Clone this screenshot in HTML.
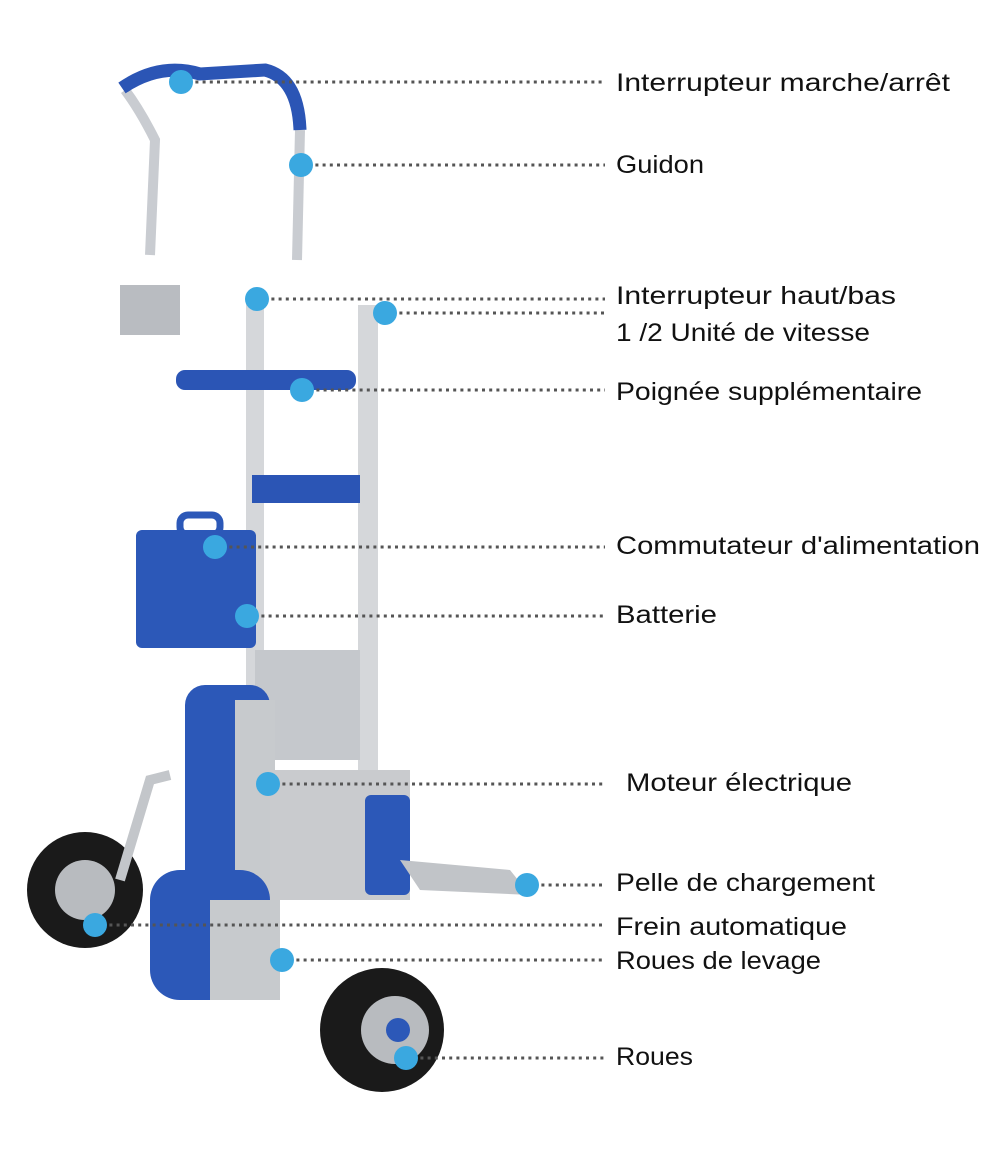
<!DOCTYPE html>
<html><head><meta charset="utf-8">
<style>
html,body{margin:0;padding:0;background:#fff;}
svg{display:block;}
text{font-family:"Liberation Sans",sans-serif;font-size:25px;fill:#111;}
</style></head><body>
<svg width="1000" height="1160" viewBox="0 0 1000 1160" xmlns="http://www.w3.org/2000/svg">
<!-- handle -->
<path d="M150 255 L155 140 Q140 110 125 90" fill="none" stroke="#c9ccd1" stroke-width="10"/>
<path d="M297 260 L300 130" fill="none" stroke="#c9ccd1" stroke-width="10"/>
<path d="M122 88 Q160 62 200 74 L265 70 Q298 78 300 130" fill="none" stroke="#2b55b5" stroke-width="13"/>
<rect x="120" y="285" width="60" height="50" fill="#b9bcc1"/>
<!-- frame rails -->
<rect x="246" y="300" width="18" height="560" fill="#d5d7da"/>
<rect x="358" y="305" width="20" height="560" fill="#d5d7da"/>
<rect x="252" y="475" width="108" height="28" fill="#2b55b5"/>
<rect x="176" y="370" width="180" height="20" rx="9" fill="#2b55b5"/>
<rect x="255" y="650" width="105" height="110" fill="#c5c8cc"/>
<!-- battery -->
<rect x="136" y="530" width="120" height="118" rx="6" fill="#2c58b8"/>
<rect x="180" y="515" width="40" height="20" rx="8" fill="none" stroke="#2c58b8" stroke-width="7"/>
<!-- motor housing -->
<rect x="185" y="685" width="85" height="285" rx="20" fill="#2c58b8"/>
<rect x="235" y="700" width="40" height="300" fill="#c7cacd"/>
<rect x="150" y="870" width="120" height="130" rx="30" fill="#2c58b8"/>
<rect x="210" y="900" width="70" height="100" fill="#c7cacd"/>
<rect x="270" y="770" width="140" height="130" fill="#c9cbce"/>
<rect x="365" y="795" width="45" height="100" rx="6" fill="#2c58b8"/>
<path d="M400 860 L510 870 L530 895 L420 890 Z" fill="#c1c4c8"/>
<!-- wheels -->
<circle cx="85" cy="890" r="58" fill="#1a1a1a"/><circle cx="85" cy="890" r="30" fill="#b8bbbf"/>
<circle cx="382" cy="1030" r="62" fill="#1a1a1a"/><circle cx="395" cy="1030" r="34" fill="#b8bbbf"/><circle cx="398" cy="1030" r="12" fill="#2c58b8"/>
<path d="M120 880 L150 780 L170 775" stroke="#c3c6ca" stroke-width="10" fill="none"/>
<!-- dotted lines -->
<g stroke="#555" stroke-width="3" stroke-dasharray="3 4.2" fill="none">
<line x1="181" y1="82" x2="605" y2="82"/>
<line x1="301" y1="165" x2="605" y2="165"/>
<line x1="257" y1="299" x2="605" y2="299"/>
<line x1="385" y1="313" x2="605" y2="313"/>
<line x1="302" y1="390" x2="605" y2="390"/>
<line x1="215" y1="547" x2="605" y2="547"/>
<line x1="247" y1="616" x2="605" y2="616"/>
<line x1="268" y1="784" x2="605" y2="784"/>
<line x1="527" y1="885" x2="605" y2="885"/>
<line x1="95" y1="925" x2="605" y2="925"/>
<line x1="282" y1="960" x2="605" y2="960"/>
<line x1="406" y1="1058" x2="605" y2="1058"/>
</g>
<g fill="#3aa8e0">
<circle cx="181" cy="82" r="12"/><circle cx="301" cy="165" r="12"/><circle cx="257" cy="299" r="12"/>
<circle cx="385" cy="313" r="12"/><circle cx="302" cy="390" r="12"/><circle cx="215" cy="547" r="12"/>
<circle cx="247" cy="616" r="12"/><circle cx="268" cy="784" r="12"/><circle cx="527" cy="885" r="12"/>
<circle cx="95" cy="925" r="12"/><circle cx="282" cy="960" r="12"/><circle cx="406" cy="1058" r="12"/>
</g>
<g>
<text x="616" y="91" textLength="334" lengthAdjust="spacingAndGlyphs">Interrupteur marche/arrêt</text>
<text x="616" y="173" textLength="88" lengthAdjust="spacingAndGlyphs">Guidon</text>
<text x="616" y="304" textLength="280" lengthAdjust="spacingAndGlyphs">Interrupteur haut/bas</text>
<text x="616" y="341" textLength="254" lengthAdjust="spacingAndGlyphs">1 /2 Unité de vitesse</text>
<text x="616" y="400" textLength="306" lengthAdjust="spacingAndGlyphs">Poignée supplémentaire</text>
<text x="616" y="554" textLength="364" lengthAdjust="spacingAndGlyphs">Commutateur d'alimentation</text>
<text x="616" y="623" textLength="101" lengthAdjust="spacingAndGlyphs">Batterie</text>
<text x="626" y="791" textLength="226" lengthAdjust="spacingAndGlyphs">Moteur électrique</text>
<text x="616" y="891" textLength="259" lengthAdjust="spacingAndGlyphs">Pelle de chargement</text>
<text x="616" y="935" textLength="231" lengthAdjust="spacingAndGlyphs">Frein automatique</text>
<text x="616" y="969" textLength="205" lengthAdjust="spacingAndGlyphs">Roues de levage</text>
<text x="616" y="1065" textLength="77" lengthAdjust="spacingAndGlyphs">Roues</text>
</g>
</svg>
</body></html>
